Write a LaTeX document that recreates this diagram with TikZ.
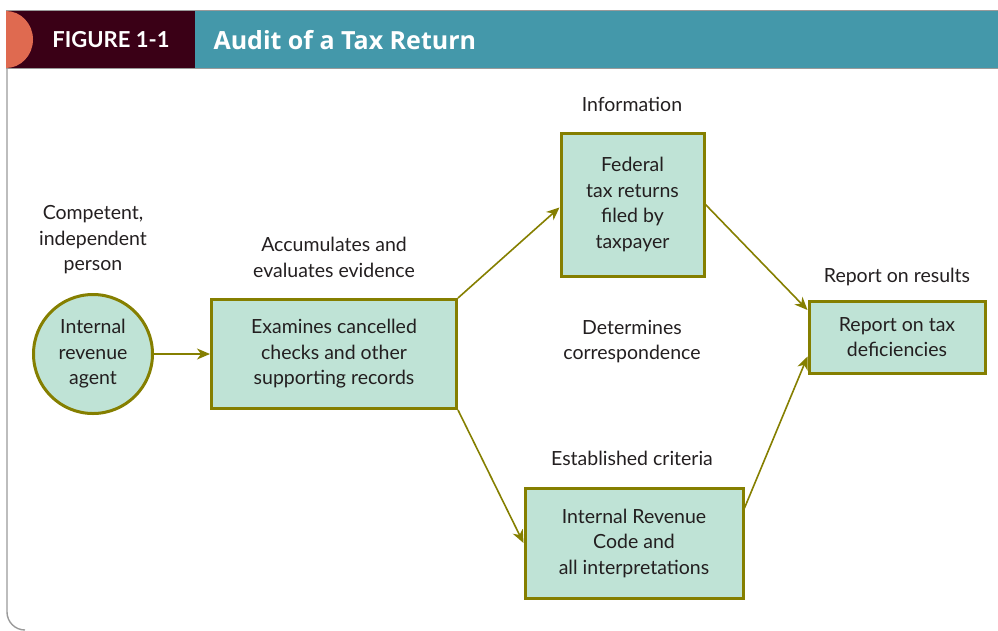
\documentclass[tikz,border=0pt]{standalone}
\usepackage{fontspec}
\setmainfont{Lato}
\newfontfamily\headfont{Open Sans}
\usetikzlibrary{arrows.meta,calc}
\definecolor{boxfill}{HTML}{BFE3D6}
\definecolor{olivec}{HTML}{857F00}
\definecolor{txt}{HTML}{231F20}
\definecolor{teal}{HTML}{4498AA}
\definecolor{maroon}{HTML}{3A0016}
\definecolor{orangec}{HTML}{DF6A50}
\definecolor{framegray}{HTML}{9A9A9A}
\tikzset{
  flowbox/.style={draw=olivec, fill=boxfill, line width=3pt, align=center, text=txt, font=\fontsize{19.5}{25.5}\selectfont, inner sep=0pt},
  lbl/.style={align=center, text=txt, font=\fontsize{19.5}{25.5}\selectfont, inner sep=0pt},
  flowarrow/.style={draw=olivec, line width=1.6pt, -{Stealth[length=13pt,width=11pt,inset=4pt]}}
}
\begin{document}
\begin{tikzpicture}[x=1pt,y=-1pt]
\useasboundingbox (0,0) rectangle (998,630);
% header
\fill[teal] (195,11) rectangle (998,68);
\fill[maroon] (6,11) rectangle (195,68);
\begin{scope}
\clip (6,11) rectangle (60,68);
\fill[orangec] (6,39.5) ellipse[x radius=27,y radius=28.5];
\end{scope}
\draw[framegray, line width=1.2pt] (6,10.5) -- (998,10.5);
\draw[framegray, line width=1.2pt] (6,68.5) -- (998,68.5);
\draw[framegray, line width=1.4pt] (7,68.5) -- (7,612) arc[start angle=180,end angle=90,radius=18];
\node[text=white, font=\fontsize{22}{26}\selectfont\bfseries] (fig) at (111,40) {FIGURE 1-1};
\node[text=white, font=\headfont\fontsize{25}{28}\selectfont\bfseries, anchor=west] (title) at (210,40) {Audit of a Tax Return};
% nodes
\node[flowbox, circle, minimum size=119pt] (agent) at (93,354) {Internal\\revenue\\agent};
\node[flowbox, minimum width=245pt, minimum height=109pt] (exam) at (334,354) {Examines cancelled\\checks and other\\supporting records};
\node[flowbox, minimum width=143pt, minimum height=143pt] (fed) at (632.5,204.5) {Federal\\tax returns\\filed by\\taxpayer};
\node[flowbox, minimum width=176pt, minimum height=72pt] (rep) at (897,337) {Report on tax\\deficiencies};
\node[flowbox, minimum width=218pt, minimum height=110pt] (irc) at (634,543) {Internal Revenue\\Code and\\all interpretations};
% labels
\node[lbl] (l1) at (93,240) {Competent,\\independent\\person};
\node[lbl] (l2) at (334,257.5) {Accumulates and\\evaluates evidence};
\node[lbl] (l3) at (632,104) {Information};
\node[lbl] (l4) at (897,277) {Report on results};
\node[lbl] (l5) at (632,341.5) {Determines\\correspondence};
\node[lbl] (l6) at (632,458) {Established criteria};
% arrows
\draw[flowarrow] (agent.east) -- (exam.west);
\draw[flowarrow] (exam.north east) -- ($(fed.north west)!0.52!(fed.south west)$);
\draw[flowarrow] (fed.east) -- ($(rep.north west)!0.14!(rep.south west)$);
\draw[flowarrow] (exam.south east) -- (irc.west);
\draw[flowarrow] ($(irc.north east)!0.19!(irc.south east)$) -- ($(rep.north west)!0.76!(rep.south west)$);
\end{tikzpicture}
\end{document}
